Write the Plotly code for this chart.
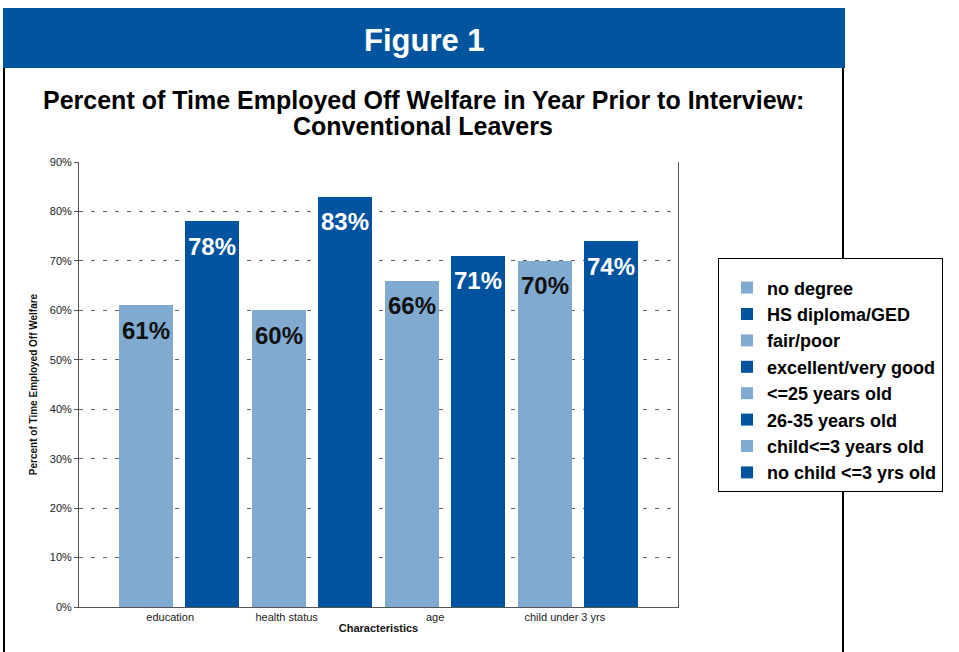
import plotly.graph_objects as go

# ---- data ----
series_names = ["no degree", "HS diploma/GED", "fair/poor", "excellent/very good",
                "<=25 years old", "26-35 years old", "child<=3 years old", "no child <=3 yrs old"]
series_values = [61, 78, 60, 83, 66, 71, 70, 74]
categories = ["education", "health status", "age", "child under 3 yrs"]
y_ticks = [0, 10, 20, 30, 40, 50, 60, 70, 80, 90]
y_tick_labels = [f"{v}%" for v in y_ticks]
title_lines = ["Percent of Time Employed Off Welfare in Year Prior to Interview:",
               "Conventional Leavers"]

LIGHT = "#80AAD0"
DARK = "#00539F"
HEADER = "#00559E"

W, H = 959, 652
L, R, T, B = 79, 678, 162, 607


def px(x):
    return (x - L) / (R - L)


def py(y):
    return (B - y) / (B - T)


fig = go.Figure()
for i, (name, val) in enumerate(zip(series_names, series_values)):
    fig.add_trace(go.Bar(
        x=[i + 1], y=[val], name=name, width=0.81, legendgroup=str(i),
        marker=dict(color=LIGHT if i % 2 == 0 else DARK, line=dict(width=0)),
        hoverinfo="skip",
    ))
    fig.add_annotation(x=i + 1, y=val, yshift=-25, text=f"<b>{val}%</b>", showarrow=False,
                       font=dict(family="Liberation Sans", size=24,
                                 color="#111111" if i % 2 == 0 else "white"))

# category label positions (relative to pair of bars)
cat_offsets = [-0.13, -0.38, -0.15, -0.2]
cat_pos = [2 * k + 1.5 + off for k, off in enumerate(cat_offsets)]

shapes = [
    dict(type="rect", xref="paper", yref="paper", x0=px(3), x1=px(845), y0=py(8), y1=py(68),
         fillcolor=HEADER, line=dict(width=0), layer="below"),
    dict(type="line", xref="paper", yref="paper", x0=px(4), x1=px(4), y0=py(68), y1=py(652),
         line=dict(color="black", width=2)),
    dict(type="line", xref="paper", yref="paper", x0=px(843), x1=px(843), y0=py(68), y1=py(652),
         line=dict(color="black", width=2)),
]

fig.add_annotation(xref="paper", yref="paper", x=px(424), y=py(40), xanchor="center", yanchor="middle",
                   text="<b>Figure 1</b>", showarrow=False,
                   font=dict(family="Liberation Sans", size=31, color="white"))
for k, (line, ypix) in enumerate(zip(title_lines, [100, 126])):
    fig.add_annotation(xref="paper", yref="paper", x=px(423), y=py(ypix), xanchor="center", yanchor="middle",
                       text=f"<b>{line}</b>", showarrow=False,
                       font=dict(family="Liberation Sans", size=25, color="black"))

fig.update_layout(
    width=W, height=H,
    margin=dict(l=L, r=W - R, t=T, b=H - B, pad=0),
    paper_bgcolor="white", plot_bgcolor="white",
    shapes=shapes,
    bargap=0,
    showlegend=True,
    legend=dict(x=px(718), y=py(258), xanchor="left", yanchor="top",
                bgcolor="white", bordercolor="black", borderwidth=1,
                font=dict(family="Liberation Sans", size=18, color="black", weight="bold"),
                indentation=8, tracegroupgap=4, traceorder="normal",
                entrywidth=200, entrywidthmode="pixels",
                title=dict(text=" ", font=dict(size=8)),
                itemclick=False),
    font=dict(family="Liberation Sans", color="#222"),
)
fig.update_xaxes(range=[0, 9], tickvals=cat_pos, ticktext=categories, showgrid=False,
                 showline=True, linecolor="#555", linewidth=1, ticks="",
                 tickfont=dict(size=11, color="#222"),
                 title=dict(text="<b>Characteristics</b>", font=dict(size=11, color="#111"), standoff=2))
fig.update_yaxes(range=[0, 90], tickvals=y_ticks, ticktext=y_tick_labels, showgrid=True,
                 gridcolor="#666", gridwidth=1, griddash="4px,8px",
                 showline=True, mirror=True, linecolor="#555", linewidth=1,
                 ticks="outside", ticklen=4, tickcolor="#555",
                 tickfont=dict(size=11, color="#222"),
                 title=dict(text="<b>Percent of Time Employed Off Welfare</b>",
                            font=dict(size=10, color="#111"), standoff=10))

fig.write_html("out.html")
